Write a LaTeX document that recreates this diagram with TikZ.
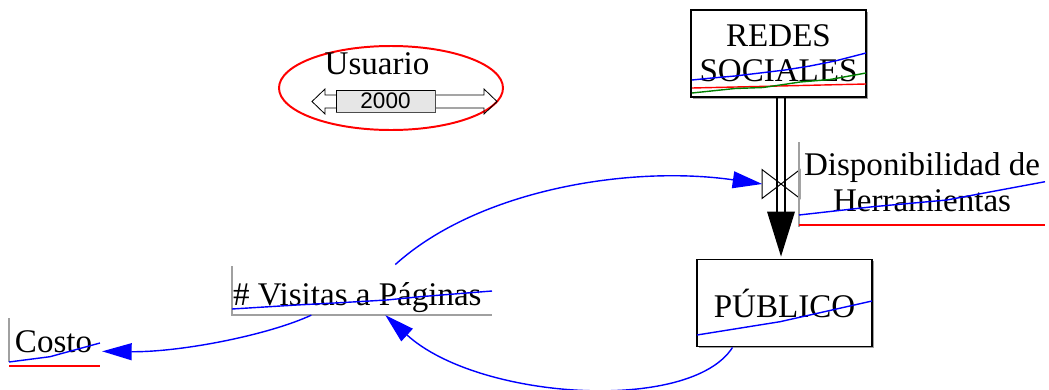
\documentclass[tikz,border=0pt]{standalone}
\usepackage{fontspec}
\setmainfont{Liberation Serif}
\newfontfamily\knobfont{Liberation Sans}
\usetikzlibrary{arrows.meta, positioning, calc, shadows}
\definecolor{vsBlue}{HTML}{0000FF}
\definecolor{vsRed}{HTML}{FF0000}
\definecolor{vsGreen}{HTML}{008000}
\definecolor{vsGray}{HTML}{A0A0A0}
\definecolor{vsKnob}{HTML}{E6E6E6}

\begin{document}
\begin{tikzpicture}[x=0.025cm, y=-0.025cm,
    txt/.style={font=\fontsize{23.5}{25}\selectfont, inner sep=0pt, outer sep=0pt},
    stock/.style={draw, line width=1.3pt, fill=white, align=center,
      font=\fontsize{23.5}{25}\selectfont,
      minimum width=4.375cm, minimum height=2.175cm,
      drop shadow={shadow xshift=1.2pt, shadow yshift=-1.2pt, fill=vsGray, opacity=1}},
    link/.style={vsBlue, line width=1pt, -{Triangle[length=21pt, width=12pt]}},
    frame/.style={vsGray, line width=0.8pt},
    trace/.style={line width=1pt}]
  \useasboundingbox (0,0) rectangle (1049,389);
  % control deslizante
  \draw[vsRed, line width=1.4pt] (391,88) ellipse [x radius=112, y radius=42];
  \node[txt, anchor=base] (usuario) at (377,74) {Usuario};
  \draw[line width=0.6pt] (312,101.5) -- (325,89) -- (325,95) -- (484,95) -- (484,89)
    -- (497,101.5) -- (484,114) -- (484,108) -- (325,108) -- (325,114) -- cycle;
  \node[draw, fill=vsKnob, line width=0.6pt, minimum width=2.475cm, minimum height=0.55cm,
    inner sep=0pt, font=\knobfont\fontsize{16}{16}\selectfont] (knob) at (385.5,101) {2000};
  \draw[black!70, line width=0.8pt] (knob.south west) -- (knob.south east) -- (knob.north east);
  % niveles
  \node[stock] (redes) at (778.5,53.5) {REDES\\SOCIALES};
  \node[stock] (publico) at (784.5,303) {PÚBLICO};
  % flujo con valvula
  \node[minimum width=0.925cm, minimum height=0.7cm, inner sep=0pt] (valve) at (781,184) {};
  \draw[line width=0.8pt] ($(redes.south -| valve)+(-4,0)$) -- ($(publico.north -| valve)+(-4,-47)$);
  \draw[line width=0.8pt] ($(redes.south -| valve)+(4,0)$) -- ($(publico.north -| valve)+(4,-47)$);
  \fill ($(publico.north -| valve)+(-14,-47)$) -- ($(publico.north -| valve)+(14,-47)$)
    -- ($(publico.north -| valve)+(0,-2)$) -- cycle;
  \draw[line width=0.7pt] (valve.north west) -- (valve.south east) -- (valve.north east)
    -- (valve.south west) -- cycle;
  % variables auxiliares
  \node[txt, align=center, anchor=north] (dispo) at (922,153) {Disponibilidad de\\Herramientas};
  \node[txt, anchor=base west] (visitas) at (233,305) {\# Visitas a Páginas};
  \node[txt, anchor=base west] (costo) at (15,352) {Costo};
  % graficos de las variables
  \draw[trace, vsBlue] (692,80) -- (712,78) -- (735,76) -- (760,73) -- (785,70) -- (810,66)
    -- (835,61) -- (866,53);
  \draw[trace, vsRed] (692,88) -- (866,84);
  \draw[trace, vsGreen] (692,93) -- (735,88.5) -- (763,87.5) -- (787,84) -- (800,82)
    -- (830,79.5) -- (866,73);
  \draw[trace, vsBlue] (697,335) -- (780,321.7) -- (872,301);
  \draw[frame] (799,142) -- (799,227);
  \draw[trace, vsBlue] (799,215) -- (873,206.7) -- (946.7,200) -- (1045,181.7);
  \draw[trace, vsRed, line width=1.4pt] (799,225) -- (1045,225);
  \draw[frame] (232,266) -- (232,315) -- (492,315);
  \draw[trace, vsBlue] (232,309) -- (296.7,305) -- (340,302.7) -- (386.7,300) -- (420,296.7)
    -- (492,291);
  \draw[frame] (9,318) -- (9,362);
  \draw[trace, vsBlue] (9,362) -- (50,356.7) -- (100,343);
  \draw[trace, vsRed, line width=1.4pt] (9,366) -- (100,366);
  % conectores
  \draw[link] ([shift={(38,-17.5)}]visitas.north) .. controls +(83,-75) and +(-132,-19) .. (valve.west);
  \draw[link] ([shift={(-52,0)}]publico.south) .. controls +(-42,66) and +(93,85) .. ([shift={(28,3)}]visitas.south);
  \draw[link] ([shift={(-46,3)}]visitas.south) .. controls +(-43,20) and +(78,1) .. ([shift={(10,-1)}]costo.south east);
\end{tikzpicture}
\end{document}
